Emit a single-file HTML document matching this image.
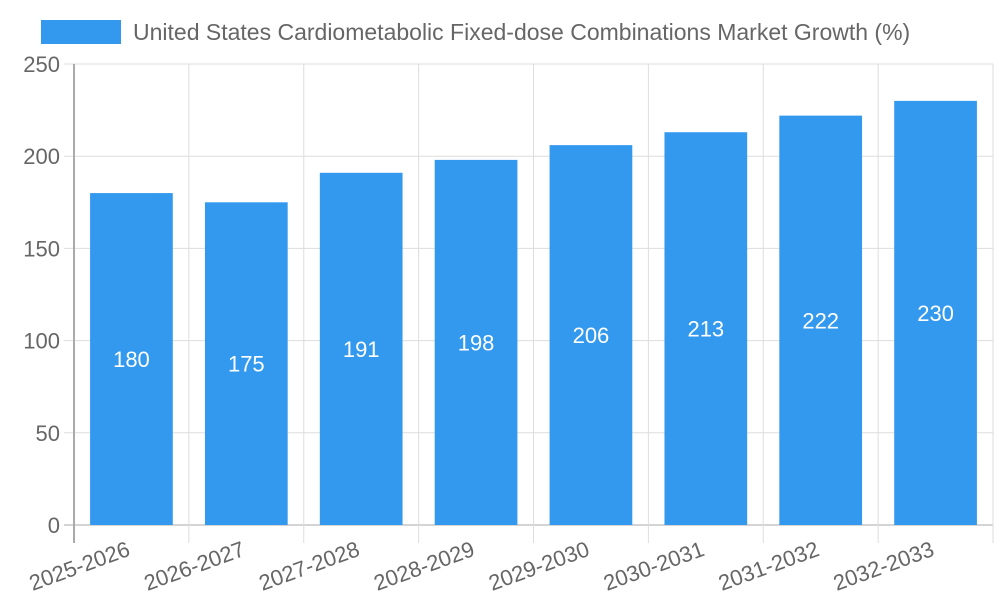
<!DOCTYPE html>
<html><head><meta charset="utf-8"><style>
body{margin:0;background:#fff;}
svg{display:block;font-family:"Liberation Sans",sans-serif;}
</style></head><body>
<svg id="chart" width="1000" height="600">
<g id="legend">
<rect x="41" y="20" width="80" height="24" fill="#3399ee"></rect>
<text x="133" y="40" font-size="23" fill="#666">United States Cardiometabolic Fixed-dose Combinations Market Growth (%)</text>
</g>
<g id="grid"></g><g id="bars"></g><g id="axes"></g>
</svg>
<script>
const categories=["2025-2026","2026-2027","2027-2028","2028-2029","2029-2030","2030-2031","2031-2032","2032-2033"];
const values=[180,175,191,198,206,213,222,230];
const yTicks=[0,50,100,150,200,250];
const X0=74,X1=993,Y0=525,Y1=64,YMAX=250;
const band=(X1-X0)/categories.length;
const y=v=>Y0-(v/YMAX)*(Y0-Y1);
const xc=i=>X0+band*(i+0.5);
const NS="http://www.w3.org/2000/svg";
function mk(t,a,p){const e=document.createElementNS(NS,t);for(const k in a)e.setAttribute(k,a[k]);p.appendChild(e);return e;}
const grid=document.getElementById('grid'),bars=document.getElementById('bars'),axes=document.getElementById('axes');
yTicks.forEach(t=>{
 const l=mk('line',{x1:X0-10,x2:X1,y1:y(t),y2:y(t),stroke:t===0?'#aaa':'#ddd','stroke-width':1},grid);
 
 
 const tx=mk('text',{x:X0-14,y:y(t)+8,'text-anchor':'end','font-size':22,fill:'#666'},axes);
 tx.textContent=t;
 
 
});
for(let i=0;i<=categories.length;i++){
 const x=X0+band*i;
 const l=mk('line',{x1:x,x2:x,y1:Y1,y2:Y0+18,stroke:i===0?'#aaa':'#ddd','stroke-width':i===0?2:1},grid);
 
 
}
categories.forEach((c,i)=>{
 const bw=band*0.72;
 const r=mk('rect',{x:xc(i)-bw/2,y:y(values[i]),width:bw,height:Y0-y(values[i]),fill:'#3399ee'},bars);
 
 
 const v=mk('text',{x:xc(i),y:(y(values[i])+Y0)/2+8,'text-anchor':'middle','font-size':22,fill:'#fff'},bars);
 v.textContent=values[i];
 
 
 const t=mk('text',{x:xc(i),y:Y0+30,'text-anchor':'end','font-size':22,fill:'#666',transform:`rotate(-20 ${xc(i)} ${Y0+30})`},axes);
 t.textContent=c;
 
 
});
</script>
</body></html>
